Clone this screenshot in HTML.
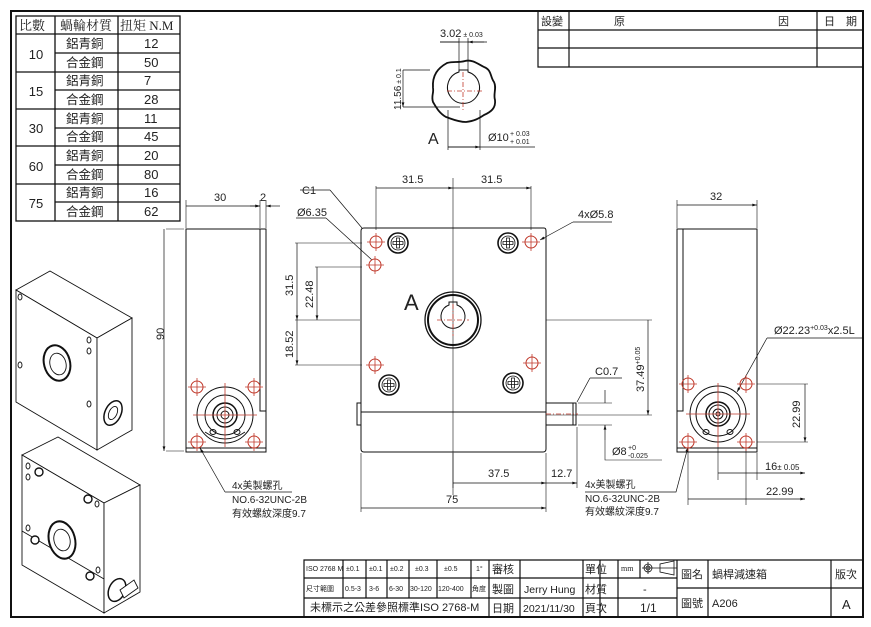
<!DOCTYPE html>
<html><head><meta charset="utf-8"><style>
html,body{margin:0;padding:0;background:#fff}
svg{display:block}
text{font-family:"Liberation Sans","Noto Sans CJK TC",sans-serif;fill:#222}
.s{font-family:"Liberation Serif","Noto Serif CJK SC",serif}
</style></head><body>
<svg width="871" height="627" viewBox="0 0 871 627" xmlns="http://www.w3.org/2000/svg">
<defs>
<marker id="a" viewBox="0 0 10 6" refX="10" refY="3" markerWidth="7" markerHeight="4" orient="auto-start-reverse"><path d="M0,0L10,3L0,6z" fill="#111"/></marker>
<g id="rh"><circle r="6" fill="none" stroke="#c0392b" stroke-width="1"/><path d="M-9,0H9M0,-9V9" stroke="#c0392b" stroke-width="0.8"/></g>
<g id="sc"><circle r="10" fill="none" stroke="#111" stroke-width="1.6"/><circle r="7" fill="none" stroke="#111" stroke-width="0.8"/><path d="M-5,-1.5H5V1.5H-5zM-1.5,-5H1.5V5H-1.5z" fill="none" stroke="#111" stroke-width="0.8"/></g>
</defs>
<rect x="11" y="11" width="852" height="606" fill="none" stroke="#111" stroke-width="2"/>

<g stroke="#111" stroke-width="1.3" fill="none">
<rect x="16" y="16" width="164" height="205"/>
<path d="M55,16V221M118,16V221M16,34H180M16,72H180M16,109H180M16,146H180M16,184H180M55,53H180M55,90H180M55,128H180M55,165H180M55,202H180"/>
</g>
<g font-size="13">
<text x="19" y="30" class="s">比數</text><text x="60" y="30" class="s">蝸輪材質</text><text x="120" y="30" class="s">扭矩 N.M</text>
<g text-anchor="middle"><text x="36" y="59">10</text><text x="36" y="96">15</text><text x="36" y="133">30</text><text x="36" y="171">60</text><text x="36" y="208">75</text></g>
<g class="s" font-size="12.5"><text x="66" y="48" fill="#555">鋁青銅</text><text x="66" y="67" fill="#555">合金鋼</text><text x="66" y="85" fill="#555">鋁青銅</text><text x="66" y="104" fill="#555">合金鋼</text><text x="66" y="123" fill="#555">鋁青銅</text><text x="66" y="141" fill="#555">合金鋼</text><text x="66" y="160" fill="#555">鋁青銅</text><text x="66" y="179" fill="#555">合金鋼</text><text x="66" y="197" fill="#555">鋁青銅</text><text x="66" y="216" fill="#555">合金鋼</text></g>
<g><text x="144" y="48">12</text><text x="144" y="67">50</text><text x="144" y="85">7</text><text x="144" y="104">28</text><text x="144" y="123">11</text><text x="144" y="141">45</text><text x="144" y="160">20</text><text x="144" y="179">80</text><text x="144" y="197">16</text><text x="144" y="216">62</text></g>
</g>

<g stroke="#111" stroke-width="1.2" fill="none"><path d="M538,12V67H863M538,30H863M538,48H863M569,12V67M817,12V67"/></g>
<g class="s" font-size="11"><text x="541" y="25">設變</text><text x="614" y="25">原</text><text x="778" y="25">因</text><text x="824" y="25">日　期</text></g>

<g stroke="#111" fill="none">
<path d="M433,88 C432,75 438,68 447,63 C454,61 458,63 465,61 C472,59 478,64 484,67 C492,70 490,77 494,82 C497,88 493,94 495,100 C496,108 491,112 484,115 C478,119 474,121 466,122 C458,122 452,119 446,117 C439,113 436,107 433,102 C431,96 434,93 433,88Z" stroke-width="1.8"/>
<path d="M459,72 A16,16 0 1 0 468,72 V70 H459Z" stroke-width="1"/>
<path d="M459,70V38M468,70V38M440,42H484M403,70H430M403,107H460M448,110V150M480,110V150M448,147H535" stroke-width="0.7"/>
<path d="M440,42H459M487,42H468" stroke-width="0.7" marker-end="url(#a)"/>
<path d="M403,88V70M403,88V107" stroke-width="0.7" marker-end="url(#a)"/>
<path d="M464,147H448M464,147H480" stroke-width="0.7" marker-end="url(#a)"/>
</g>
<path d="M447,91H482M463,72V110" stroke="#c0392b" stroke-width="0.8" stroke-dasharray="5,2,1,2"/>
<text x="440" y="37" font-size="11">3.02<tspan font-size="7"> ± 0.03</tspan></text>
<text x="401" y="110" font-size="10" transform="rotate(-90 401 110)">11.56<tspan font-size="7"> ± 0.1</tspan></text>
<text x="488" y="141" font-size="11">Ø10</text><text x="510" y="136" font-size="7">+ 0.03</text><text x="510" y="144" font-size="7">+ 0.01</text>
<text x="428" y="144" font-size="16">A</text>

<g stroke="#111" fill="none" stroke-width="1">
<rect x="186" y="229" width="80" height="223"/>
<path d="M260,229V411H266M186,448H266"/>
<path d="M186,200V228M260,200V228M266,200V228M166,229H184M166,451H184" stroke-width="0.6"/>
<path d="M223,206H186M223,206H260" stroke-width="0.7" marker-end="url(#a)"/><path d="M280,206H266" stroke-width="0.7" marker-end="url(#a)"/><path d="M250,206H260" stroke-width="0.7" marker-end="url(#a)"/>
<path d="M164,340V229M164,340V451" stroke-width="0.7" marker-end="url(#a)"/>
<circle cx="225" cy="415" r="28"/><circle cx="225" cy="415" r="20"/><circle cx="225" cy="415" r="12" stroke-width="1.5"/><circle cx="225" cy="415" r="8"/><circle cx="225" cy="415" r="4"/>
<path d="M205,432 Q225,446 245,432" /><ellipse cx="213" cy="432" rx="3" ry="2.5"/><ellipse cx="237" cy="432" rx="3" ry="2.5"/>
<path d="M225,492L200,448" stroke-width="0.7" marker-end="url(#a)"/><path d="M225,492H292" stroke-width="0.7"/>
</g>
<path d="M193,415H257M225,383V447" stroke="#c0392b" stroke-width="0.8"/>
<use href="#rh" x="197" y="387"/><use href="#rh" x="254" y="387"/><use href="#rh" x="197" y="442"/><use href="#rh" x="254" y="442"/>
<text x="214" y="201" font-size="11">30</text><text x="260" y="201" font-size="11">2</text>
<text x="158" y="346" font-size="11" transform="rotate(-90 158 340)">90</text>
<text x="232" y="489" font-size="10">4x美製螺孔</text><text x="232" y="503" font-size="10">NO.6-32UNC-2B</text><text x="232" y="517" font-size="10" fill="#444">有效螺紋深度9.7</text>

<g stroke="#111" fill="none" stroke-width="1">
<path d="M364,228H544Q546,228 546,231V449Q546,452 543,452H364Q361,452 361,449V231Q361,228 364,228Z"/>
<path d="M361,412H546M357,403H361V425H357Z"/>
<rect x="546" y="403" width="30" height="22"/><path d="M573,403V425"/>
<circle cx="453" cy="320" r="28" stroke-width="1.3"/><circle cx="453" cy="320" r="25" stroke-width="2"/>
<path d="M449,305 A12,12 0 1 0 457,305 V302H449Z"/>
<path d="M453,178V495M295,320H360M546,320H652M546,415H652M295,243H362M315,267H362M295,365H362M376,186V230M531,186V230" stroke-width="0.6"/>
<path d="M361,453V512M546,453V512M453,453V488M577,427V488M578,403H612M578,425H612" stroke-width="0.6"/>
<path d="M415,188H376M415,188H453" stroke-width="0.7" marker-end="url(#a)"/><path d="M492,188H453M492,188H531" stroke-width="0.7" marker-end="url(#a)"/>
<path d="M297,282V243M297,282V320" stroke-width="0.7" marker-end="url(#a)"/><path d="M317,293V267M317,293V320" stroke-width="0.7" marker-end="url(#a)"/>
<path d="M297,343V320M297,343V365" stroke-width="0.7" marker-end="url(#a)"/><path d="M648,368V320M648,368V415" stroke-width="0.7" marker-end="url(#a)"/>
<path d="M500,483H453M500,483H546" stroke-width="0.7" marker-end="url(#a)"/><path d="M561,483H546M561,483H577" stroke-width="0.7" marker-end="url(#a)"/>
<path d="M453,508H361M453,508H546" stroke-width="0.7" marker-end="url(#a)"/>
<path d="M605,390V403M605,440V425" stroke-width="0.7" marker-end="url(#a)"/><path d="M605,440V460H662" stroke-width="0.6"/>
<path d="M590,378H622M590,378L577,402" stroke-width="0.7"/>
<path d="M330,190H300M330,190L362,228" stroke-width="0.7"/><path d="M326,218H296M326,218L372,260" stroke-width="0.7"/>
<path d="M573,222H612M573,222L540,240" stroke-width="0.7" marker-end="url(#a)"/>
<path d="M585,492H676L688,447" stroke-width="0.7" marker-end="url(#a)"/>
</g>
<path d="M437,320H469M453,304V336M546,414H578" stroke="#c0392b" stroke-width="0.8" stroke-dasharray="5,2,1,2"/>
<use href="#rh" x="376" y="242"/><use href="#rh" x="375" y="265"/><use href="#rh" x="531" y="242"/><use href="#rh" x="375" y="365"/><use href="#rh" x="532" y="363"/>
<use href="#sc" x="398" y="243"/><use href="#sc" x="508" y="243"/><use href="#sc" x="389" y="385"/><use href="#sc" x="513" y="383"/>
<text x="404" y="310" font-size="22">A</text>
<g font-size="11"><text x="402" y="183">31.5</text><text x="481" y="183">31.5</text>
<text x="302" y="194">C1</text><text x="297" y="216">Ø6.35</text><text x="578" y="218">4xØ5.8</text>
<text x="293" y="296" transform="rotate(-90 293 296)">31.5</text><text x="313" y="308" transform="rotate(-90 313 308)">22.48</text><text x="293" y="358" transform="rotate(-90 293 358)">18.52</text>
<text x="644" y="392" transform="rotate(-90 644 392)">37.49<tspan font-size="7" dy="-4">+0.05</tspan></text>
<text x="488" y="477">37.5</text><text x="551" y="477">12.7</text><text x="446" y="503">75</text>
<text x="595" y="375">C0.7</text><text x="612" y="455">Ø8</text></g>
<text x="628" y="450" font-size="7">+0</text><text x="628" y="458" font-size="7">-0.025</text>
<text x="585" y="488" font-size="10">4x美製螺孔</text><text x="585" y="502" font-size="10">NO.6-32UNC-2B</text><text x="585" y="515" font-size="10" fill="#444">有效螺紋深度9.7</text>

<g stroke="#111" fill="none" stroke-width="1">
<rect x="677" y="229" width="80" height="223"/><path d="M683,229V411H677M677,448H757"/>
<path d="M677,200V228M757,200V228M757,384H808M757,442H808M688,447V505M746,447V505M718,447V480M757,453V480" stroke-width="0.6"/>
<path d="M717,205H677M717,205H757" stroke-width="0.7" marker-end="url(#a)"/>
<path d="M805,413V384M805,413V442" stroke-width="0.7" marker-end="url(#a)"/>
<path d="M737,473H718M737,473H757M757,473H805" stroke-width="0.7" marker-end="url(#a)"/>
<path d="M717,499H688M717,499H746M746,499H805" stroke-width="0.7" marker-end="url(#a)"/>
<circle cx="718" cy="414" r="28"/><circle cx="718" cy="414" r="22"/><circle cx="718" cy="414" r="12" stroke-width="1.5"/><circle cx="718" cy="414" r="9"/><circle cx="718" cy="414" r="5"/><circle cx="718" cy="414" r="2"/>
<ellipse cx="706" cy="432" rx="3" ry="2.5"/><ellipse cx="730" cy="432" rx="3" ry="2.5"/>
<path d="M767,338H862M767,338L737,392" stroke-width="0.7" marker-end="url(#a)"/>
</g>
<path d="M686,414H750M718,383V447" stroke="#c0392b" stroke-width="0.8"/>
<use href="#rh" x="688" y="384"/><use href="#rh" x="746" y="384"/><use href="#rh" x="688" y="442"/><use href="#rh" x="746" y="442"/>
<text x="710" y="200" font-size="11">32</text>
<text x="774" y="334" font-size="11">Ø22.23<tspan font-size="7" dy="-4">+0.03</tspan><tspan font-size="11" dy="4">x2.5L</tspan></text>
<text x="800" y="428" font-size="11" transform="rotate(-90 800 428)">22.99</text>
<text x="765" y="470" font-size="11">16<tspan font-size="8">± 0.05</tspan></text><text x="766" y="495" font-size="11">22.99</text>

<g stroke="#111" fill="#fff" stroke-width="0.9">
<path d="M16,290L50,271L132,318L97,338Z"/><path d="M16,290L97,338L97,450L16,402Z"/><path d="M97,338L132,318L132,430L97,450Z"/>
<ellipse cx="57" cy="363" rx="13" ry="18" transform="rotate(-15 57 363)" stroke-width="2"/><ellipse cx="58" cy="364" rx="8" ry="11" transform="rotate(-15 58 364)"/>
<ellipse cx="20" cy="297" rx="2" ry="3"/><ellipse cx="20" cy="365" rx="2" ry="3"/><ellipse cx="89" cy="340" rx="2" ry="3"/><ellipse cx="89" cy="351" rx="2" ry="3"/><ellipse cx="89" cy="404" rx="2" ry="3"/>
<ellipse cx="113" cy="413" rx="8" ry="13" transform="rotate(25 113 413)" stroke-width="1.5"/><ellipse cx="113" cy="413" rx="4" ry="7" transform="rotate(25 113 413)"/>
</g>
<g stroke="#111" fill="#fff" stroke-width="0.9">
<path d="M22,455L58,437L140,485L104,503Z"/><path d="M22,455L104,503L104,613L22,565Z"/><path d="M104,503L140,485L140,592L104,613Z"/>
<path d="M22,531L104,579"/>
<ellipse cx="62" cy="540" rx="13" ry="19" transform="rotate(-15 62 540)" stroke-width="2"/><ellipse cx="62" cy="540" rx="8" ry="11" transform="rotate(-15 62 540)"/>
<circle cx="39" cy="472" r="4" stroke-width="1.4"/><circle cx="88" cy="499" r="4" stroke-width="1.4"/><circle cx="35" cy="540" r="4" stroke-width="1.4"/><circle cx="90" cy="576" r="4" stroke-width="1.4"/>
<ellipse cx="28" cy="466" rx="2" ry="3"/><ellipse cx="28" cy="477" rx="2" ry="3"/><ellipse cx="97" cy="504" rx="2" ry="3"/><ellipse cx="28" cy="528" rx="2" ry="3"/><ellipse cx="98" cy="570" rx="2" ry="3"/>
<ellipse cx="117" cy="590" rx="8" ry="12" transform="rotate(25 117 590)" stroke-width="1.5"/><path d="M120,590L134,580L138,588L124,598Z"/>
</g>

<g stroke="#111" fill="none" stroke-width="1.2">
<path d="M304,617V560H863M304,578H677M304,598H677M677,588H863"/>
<path d="M343,560V598M366,560V598M387,560V598M409,560V598M437,560V598M471,560V598M489,560V617M520,560V617M583,560V617M600,560V617M618,560V617M640,560V578M677,560V617M708,560V617M831,560V617"/>
</g>
<g class="s" font-size="7"><text x="306" y="571">ISO 2768 M</text><text x="346" y="571">±0.1</text><text x="369" y="571">±0.1</text><text x="390" y="571">±0.2</text><text x="415" y="571">±0.3</text><text x="444" y="571">±0.5</text><text x="476" y="571">1°</text>
<text x="306" y="591">尺寸範圍</text><text x="345" y="591">0.5-3</text><text x="369" y="591">3-6</text><text x="389" y="591">6-30</text><text x="410" y="591">30-120</text><text x="438" y="591">120-400</text><text x="472" y="591">角度</text></g>
<g class="s" font-size="11"><text x="310" y="611">未標示之公差參照標準ISO 2768-M</text>
<text x="492" y="573">審核</text><text x="492" y="593">製圖</text><text x="492" y="612">日期</text>
<text x="585" y="573">單位</text><text x="585" y="593">材質</text><text x="585" y="612">頁次</text>
<text x="681" y="578">圖名</text><text x="681" y="607">圖號</text><text x="835" y="578">版次</text></g>
<text x="621" y="571" font-size="8" class="s">mm</text>
<g stroke="#111" fill="none" stroke-width="0.8"><circle cx="648" cy="568" r="4"/><circle cx="648" cy="568" r="2"/><path d="M642,568H677M648,562V574M660,564V572L674,575V561Z"/></g>
<text x="524" y="593" font-size="10.5">Jerry Hung</text><text x="523" y="612" font-size="10.5">2021/11/30</text>
<text x="643" y="593" font-size="11">-</text><text x="640" y="612" font-size="12">1/1</text>
<text x="712" y="578" font-size="11" fill="#444">蝸桿減速箱</text><text x="712" y="607" font-size="11">A206</text><text x="842" y="609" font-size="13">A</text>
</svg>
</body></html>
